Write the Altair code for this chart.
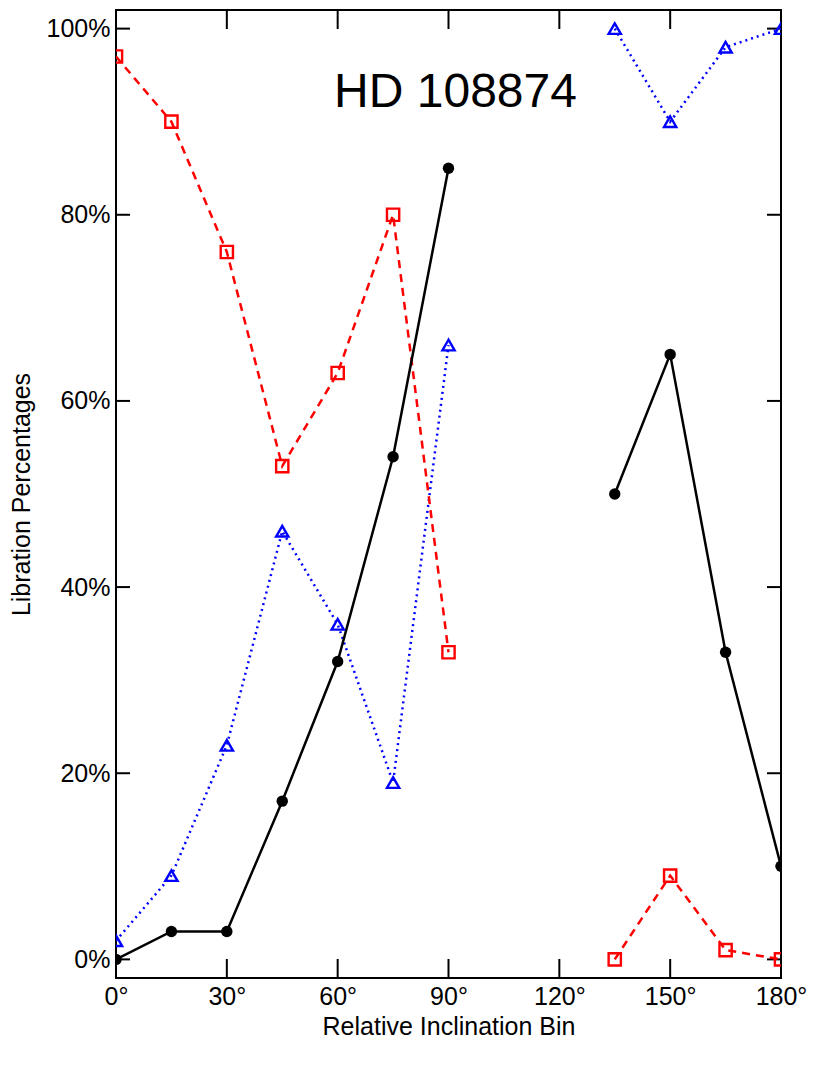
import altair as alt
import pandas as pd

bins = [0, 15, 30, 45, 60, 75, 90, 135, 150, 165, 180]
segment = ["a", "a", "a", "a", "a", "a", "a", "b", "b", "b", "b"]
black_vals = [0, 3, 3, 17, 32, 54, 85, 50, 65, 33, 10]
red_vals = [97, 90, 76, 53, 63, 80, 33, 0, 9, 1, 0]
blue_vals = [2, 9, 23, 46, 36, 19, 66, 100, 90, 98, 100]

x_ticks = [0, 30, 60, 90, 120, 150, 180]
y_ticks = [0, 20, 40, 60, 80, 100]

W, H = 665, 968
FONT = "Liberation Sans"

df = pd.DataFrame({"bin": bins, "seg": segment, "black": black_vals,
                   "red": red_vals, "blue": blue_vals})

xs = alt.Scale(domain=[0, 180], nice=False, zero=False)
ys = alt.Scale(domain=[-2, 102], nice=False, zero=False)

xaxis = alt.Axis(values=x_ticks, labelExpr="datum.value + '°'", title="Relative Inclination Bin",
                 grid=False, domain=False, ticks=False, labelFontSize=25, labelPadding=6,
                 titleFontSize=25, titlePadding=5, labelFont=FONT, titleFont=FONT,
                 labelColor="black", titleColor="black", titleFontWeight="normal",
                 labelFlush=False, labelOverlap=False)
yaxis = alt.Axis(values=y_ticks, labelExpr="datum.value + '%'", title="Libration Percentages",
                 grid=False, domain=False, ticks=False, labelFontSize=25, labelPadding=6,
                 titleFontSize=25, titlePadding=12, labelFont=FONT, titleFont=FONT,
                 labelColor="black", titleColor="black", titleFontWeight="normal",
                 labelFlush=False, labelOverlap=False)

base = alt.Chart(df)

black_line = base.mark_line(color="black", strokeWidth=2.5, clip=True).encode(
    x=alt.X("bin:Q", scale=xs, axis=xaxis),
    y=alt.Y("black:Q", scale=ys, axis=yaxis),
    detail="seg:N")
black_pts = base.mark_point(color="black", filled=True, opacity=1, size=130, shape="circle", clip=True).encode(
    x=alt.X("bin:Q", scale=xs), y=alt.Y("black:Q", scale=ys))

red_line = base.mark_line(color="red", strokeWidth=2.5, strokeDash=[8, 6], clip=True).encode(
    x=alt.X("bin:Q", scale=xs), y=alt.Y("red:Q", scale=ys), detail="seg:N")
red_pts = base.mark_point(color="red", filled=False, opacity=1, size=150, shape="square",
                          strokeWidth=2.4, clip=True).encode(
    x=alt.X("bin:Q", scale=xs), y=alt.Y("red:Q", scale=ys))

blue_line = base.mark_line(color="blue", strokeWidth=2.5, strokeDash=[2, 4], clip=True).encode(
    x=alt.X("bin:Q", scale=xs), y=alt.Y("blue:Q", scale=ys), detail="seg:N")
blue_pts = base.mark_point(color="blue", filled=False, opacity=1, size=150, shape="triangle-up",
                           strokeWidth=2.4, clip=True).encode(
    x=alt.X("bin:Q", scale=xs), y=alt.Y("blue:Q", scale=ys))

xt = alt.Chart(pd.DataFrame({"t": x_ticks}))
yt = alt.Chart(pd.DataFrame({"t": y_ticks}))
tick_style = dict(color="black", strokeWidth=2)
x_bottom = xt.mark_rule(**tick_style).encode(x=alt.X("t:Q", scale=xs), y=alt.value(H), y2=alt.value(H - 19))
x_top = xt.mark_rule(**tick_style).encode(x=alt.X("t:Q", scale=xs), y=alt.value(0), y2=alt.value(19))
y_left = yt.mark_rule(**tick_style).encode(y=alt.Y("t:Q", scale=ys), x=alt.value(0), x2=alt.value(14))
y_right = yt.mark_rule(**tick_style).encode(y=alt.Y("t:Q", scale=ys), x=alt.value(W), x2=alt.value(W - 14))

chart = alt.layer(
    x_bottom, x_top, y_left, y_right,
    blue_line, red_line, black_line, blue_pts, red_pts, black_pts
).properties(
    width=W, height=H,
    background="white",
    title=alt.TitleParams("HD 108874", fontSize=48, font=FONT, fontWeight="normal", color="black",
                          anchor="middle", frame="group", baseline="alphabetic", offset=0, dy=146, dx=7),
    autosize=alt.AutoSizeParams(type="none"),
    padding={"left": 108, "top": 2, "right": 40, "bottom": 80},
).configure_view(stroke="black", strokeWidth=2)

chart.save("out.html", embed_options={"renderer": "svg", "actions": False})
